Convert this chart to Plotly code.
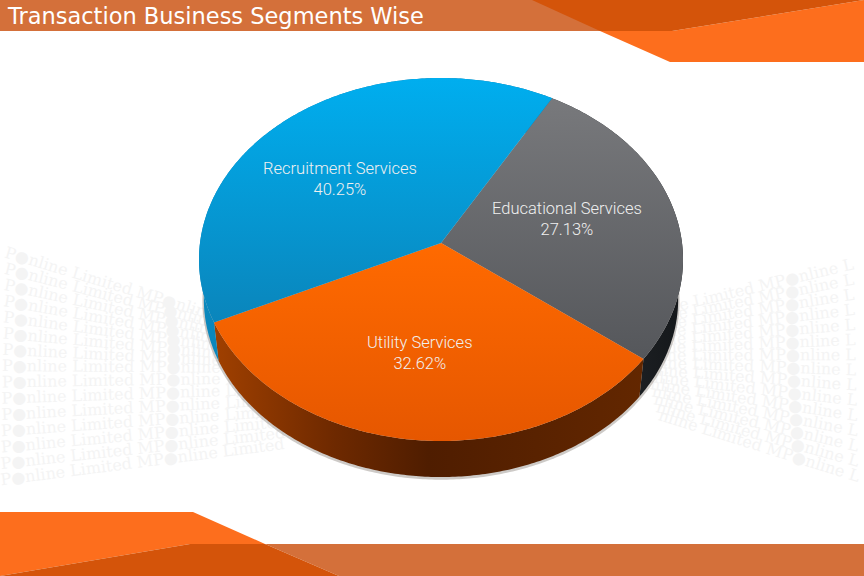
import math
import plotly.graph_objects as go

# ---- data ----
segments = ["Educational Services", "Utility Services", "Recruitment Services"]
shares = [27.13, 32.62, 40.25]
share_labels = ["27.13%", "32.62%", "40.25%"]
title_text = "Transaction Business Segments Wise"
watermark_left = "P\u25cfnline Limited MP\u25cfnline Limited"
watermark_right = "nline Limited MP\u25cfnline L"

# ---- styling / layout ----
W, H = 864, 576
first_angle = 29.8
APEX = (441.0, 243.0)
A, B, K = 241.0, 180.0, 0.0909
DEPTH, BASE_SCALE = 40.0, 0.98
top_grad = [
    [[0, "#55575b"], [1, "#78797c"]],
    [[0, "#e65700"], [1, "#ff6a00"]],
    [[0, "#0a85bb"], [1, "#00aeef"]],
]
side_grad = [
    [[0, "#2b2e32"], [1, "#14171a"]],
    [[0, "#a04000"], [0.28, "#6e2900"], [0.5, "#4f1d00"], [1, "#632700"]],
    [[0, "#0a88bd"], [1, "#0a6f9f"]],
]
label_xy = [(567, 219), (420, 353), (340, 178.5)]


def project(angle_deg, scale=1.0, dy=0.0):
    t = math.radians(angle_deg)
    u, v = math.sin(t), math.cos(t)
    w = 1 + K * v
    return APEX[0] + scale * A * u / w, APEX[1] + dy - scale * B * v / w


def arc(a0, a1, scale=1.0, dy=0.0):
    n = max(2, int(abs(a1 - a0) * 1.5))
    pts = [project(a0 + (a1 - a0) * i / n, scale, dy) for i in range(n + 1)]
    return [p[0] for p in pts], [p[1] for p in pts]


fig = go.Figure()

# slice angular extents come from the shares
total = sum(shares)
bounds = []
ang = first_angle
for s in shares:
    bounds.append((ang, ang + 360 * s / total))
    ang += 360 * s / total

# soft shadow under the solid
sx, sy = arc(0, 360, BASE_SCALE + 0.006, DEPTH + 1.5)
fig.add_trace(go.Scatter(x=sx, y=sy, fill="toself", fillcolor="rgba(90,80,70,0.30)",
                         mode="none", hoverinfo="skip", showlegend=False))

# side wall
for i, (a0, a1) in enumerate(bounds):
    xt, yt = arc(a0, a1)
    xb, yb = arc(a0, a1, BASE_SCALE, DEPTH)
    fig.add_trace(go.Scatter(
        x=xt + xb[::-1], y=yt + yb[::-1], fill="toself", mode="none",
        fillgradient=dict(type="horizontal", colorscale=side_grad[i]),
        hoverinfo="skip", showlegend=False))

# top face
for i, (a0, a1) in enumerate(bounds):
    xt, yt = arc(a0, a1)
    fig.add_trace(go.Scatter(
        x=[APEX[0]] + xt + [APEX[0]], y=[APEX[1]] + yt + [APEX[1]],
        fill="toself", mode="none", name=segments[i],
        fillgradient=dict(type="vertical", colorscale=top_grad[i]),
        text=f"{segments[i]} {share_labels[i]}", hoverinfo="text", showlegend=False))

# header / footer bands
def poly(points, color):
    d = "M" + "L".join(f"{x},{y}" for x, y in points) + "Z"
    return dict(type="path", path=d, fillcolor=color, line_width=0, layer="below",
                xref="x", yref="y")

shapes = [
    poly([(0, 0), (600, 0), (600, 31), (0, 31)], "#d4703a"),
    poly([(600, 31), (672, 31), (864, 0), (864, 62), (670, 62)], "#fd6e1d"),
    poly([(532, 0), (864, 0), (672, 31), (600, 31)], "#d4540a"),
    poly([(265, 544), (864, 544), (864, 576), (339, 576)], "#d4703a"),
    poly([(0, 512), (193, 512), (265, 544), (190, 544), (0, 576)], "#fd6e1d"),
    poly([(0, 576), (190, 544), (265, 544), (339, 576)], "#d4540a"),
]

# faint fan of watermark rows on both sides
WM = "#f4f4f4"
for j in range(15):
    y0 = 263 + 16.3 * j
    slope = (380 - y0) * (0.00256 if y0 < 380 else 0.00115)
    x1, x2 = 2, 320
    shapes.append(dict(type="line", x0=x1, x1=x2, y0=y0, y1=y0 + slope * (x2 - x1),
                       line=dict(color="rgba(0,0,0,0)", width=0), layer="below",
                       label=dict(text=watermark_left, textposition="start",
                                  font=dict(family="DejaVu Serif", size=16, color=WM))))
    y0 = 275 + 15.2 * j
    slope = (367 - y0) * 0.00258
    x1, x2 = 600, 856
    shapes.append(dict(type="line", x0=x1, x1=x2, y0=y0 + slope * (x2 - x1), y1=y0,
                       line=dict(color="rgba(0,0,0,0)", width=0), layer="below",
                       label=dict(text=watermark_right, textposition="end",
                                  font=dict(family="DejaVu Serif", size=16, color=WM))))

annotations = [dict(x=5, y=15.5, xref="x", yref="y", xanchor="left", yanchor="middle", showarrow=False,
                    text=title_text, font=dict(family="DejaVu Sans", size=22.5, color="white"))]
for i in range(3):
    annotations.append(dict(x=label_xy[i][0], y=label_xy[i][1], xref="x", yref="y", showarrow=False,
                            align="center", text=f"{segments[i]}<br>{share_labels[i]}",
                            font=dict(family="Roboto", size=16.5, weight=300, color="#f0f0f0")))

fig.update_layout(
    width=W, height=H, margin=dict(l=0, r=0, t=0, b=0), autosize=False,
    paper_bgcolor="white", plot_bgcolor="white", showlegend=False,
    xaxis=dict(range=[0, W], visible=False, fixedrange=True),
    yaxis=dict(range=[H, 0], visible=False, fixedrange=True),
    shapes=shapes, annotations=annotations,
)
fig.write_html("out.html", config={"displayModeBar": False},
               post_script="document.body.style.margin='0';")
